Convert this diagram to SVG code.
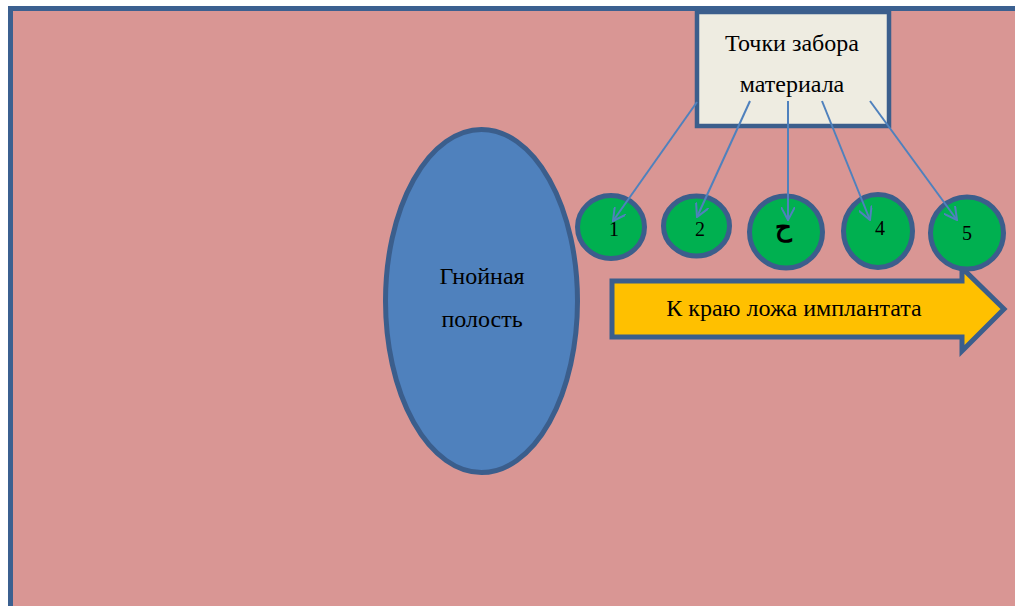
<svg xmlns="http://www.w3.org/2000/svg" width="1015" height="606" viewBox="0 0 1015 606">
<defs>
<style>
.t{font-family:"Liberation Serif","Times New Roman",serif;font-size:24px;fill:#000;text-anchor:middle}
.n{font-family:"Liberation Serif","Times New Roman",serif;font-size:20px;fill:#000;text-anchor:middle}
.c{fill:#00b050;stroke:#3b5e8c;stroke-width:5}
.con{stroke:#4f81bd;stroke-width:2;fill:none}
</style>
<marker id="ah" viewBox="0 0 14 14" refX="13" refY="7" markerWidth="14" markerHeight="14" markerUnits="userSpaceOnUse" orient="auto">
<path d="M0,0 L13,7 L0,14" fill="none" stroke="#4f81bd" stroke-width="2"/>
</marker>
</defs>
<rect width="1015" height="606" fill="#ffffff"/>
<g id="background">
<rect x="10.5" y="8.5" width="1020" height="620" fill="#d99694" stroke="#3b6090" stroke-width="5"/>
</g>
<g id="cavity">
<ellipse cx="481.5" cy="301" rx="96" ry="171.5" fill="#4f81bd" stroke="#3b5e8c" stroke-width="5"/>
<text class="t" x="482" y="284">Гнойная</text>
<text class="t" x="482" y="327">полость</text>
</g>
<g id="direction-arrow">
<path d="M612,281 L962,281 L962,268 L1004,309 L962,351 L962,337 L612,337 Z" fill="#ffc000" stroke="#3b5e8c" stroke-width="5" stroke-linejoin="miter"/>
<text class="t" x="794" y="316">К краю ложа имплантата</text>
</g>
<g id="point1"><ellipse class="c" cx="611" cy="227" rx="33.5" ry="31.5"/><text class="n" x="614" y="236">1</text></g>
<g id="point2"><ellipse class="c" cx="696.5" cy="226" rx="33" ry="30"/><text class="n" x="700" y="236">2</text></g>
<g id="point3"><ellipse class="c" cx="786" cy="232" rx="36.5" ry="36"/><text class="n" x="783" y="236" style="font-weight:bold;font-size:26px">ح</text></g>
<g id="point4"><ellipse class="c" cx="878" cy="231" rx="34.5" ry="36.5"/><text class="n" x="880" y="235">4</text></g>
<g id="point5"><ellipse class="c" cx="967" cy="233" rx="36.5" ry="36"/><text class="n" x="967" y="240">5</text></g>
<g id="sampling-box">
<rect x="697" y="12" width="192" height="114" fill="#eeece1" stroke="#3b5e8c" stroke-width="4.5"/>
<text class="t" x="792" y="51">Точки забора</text>
<text class="t" x="792" y="92">материала</text>
</g>
<g id="connectors">
<line class="con" x1="697" y1="102" x2="613" y2="221" marker-end="url(#ah)"/>
<line class="con" x1="750" y1="101" x2="697" y2="217" marker-end="url(#ah)"/>
<line class="con" x1="788" y1="101" x2="788" y2="220" marker-end="url(#ah)"/>
<line class="con" x1="822" y1="101" x2="870" y2="220" marker-end="url(#ah)"/>
<line class="con" x1="870" y1="101" x2="957" y2="220" marker-end="url(#ah)"/>
</g>
</svg>
